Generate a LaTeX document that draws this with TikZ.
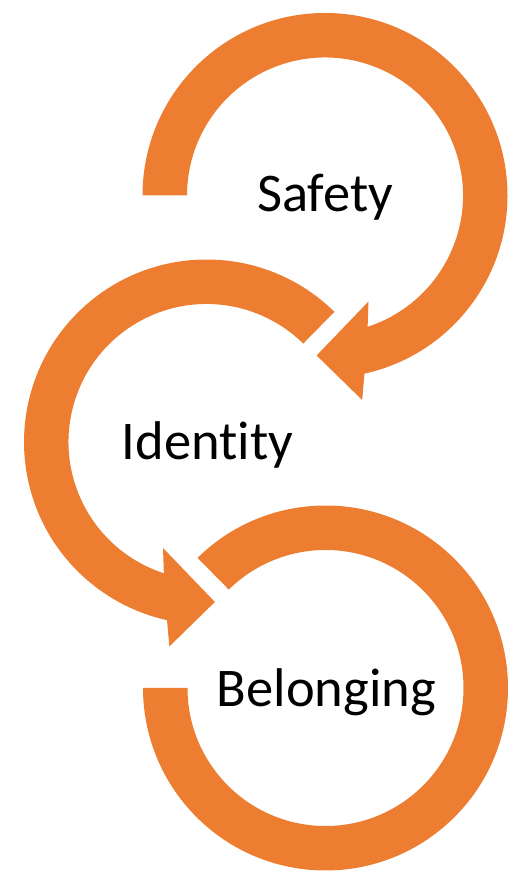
\documentclass[tikz,border=0pt]{standalone}
\usepackage{fontspec}
\setmainfont{Carlito}[Ligatures=NoCommon]
\usetikzlibrary{calc}
\definecolor{loopOrange}{RGB}{237,125,49}

\begin{document}
\begin{tikzpicture}[x=1pt,y=1pt,
	loop/.style={fill=loopOrange}, % filled circular arrows
	txt/.style={anchor=base,inner sep=0pt,font=\fontsize{54.5}{60}\selectfont},
]
	\useasboundingbox (0,0) rectangle (520,875);
	\coordinate (c-safety) at (325,679.5);
	\coordinate (c-identity) at (206.5,433);
	\coordinate (c-belonging) at (325.5,187);

	% Safety: clockwise, head at the lower left
	\fill[loop,shift={(c-safety)}] (180:182.5)
		arc[start angle=180,end angle=-77.5,radius=182.5]
		-- (-79.7:207.8) -- (-93:160.2) -- (-67.7:114.6) -- (-72:138)
		arc[start angle=-72,end angle=180,radius=138] -- cycle;

	% Identity: counter clockwise, head at the lower right
	\fill[loop,shift={(c-identity)}] (45.5:182.5)
		arc[start angle=45.5,end angle=257.5,radius=182.5]
		-- (259.7:207.8) -- (273:160.2) -- (247.7:114.6) -- (252:138)
		arc[start angle=252,end angle=45.5,radius=138] -- cycle;

	% Belonging: open ring, no head
	\fill[loop,shift={(c-belonging)}] (134.5:182.5)
		arc[start angle=134.5,end angle=-180,radius=182.5]
		-- (-180:138)
		arc[start angle=-180,end angle=134.5,radius=138] -- cycle;

	\node[txt] (safety) at ($(c-safety)+(0,-16.2)$) {Safety};
	\node[txt] (identity) at ($(c-identity)+(1,-17.3)$) {Identity};
	\node[txt] (belonging) at ($(c-belonging)+(1,-18.7)$) {Belonging};
\end{tikzpicture}
\end{document}
